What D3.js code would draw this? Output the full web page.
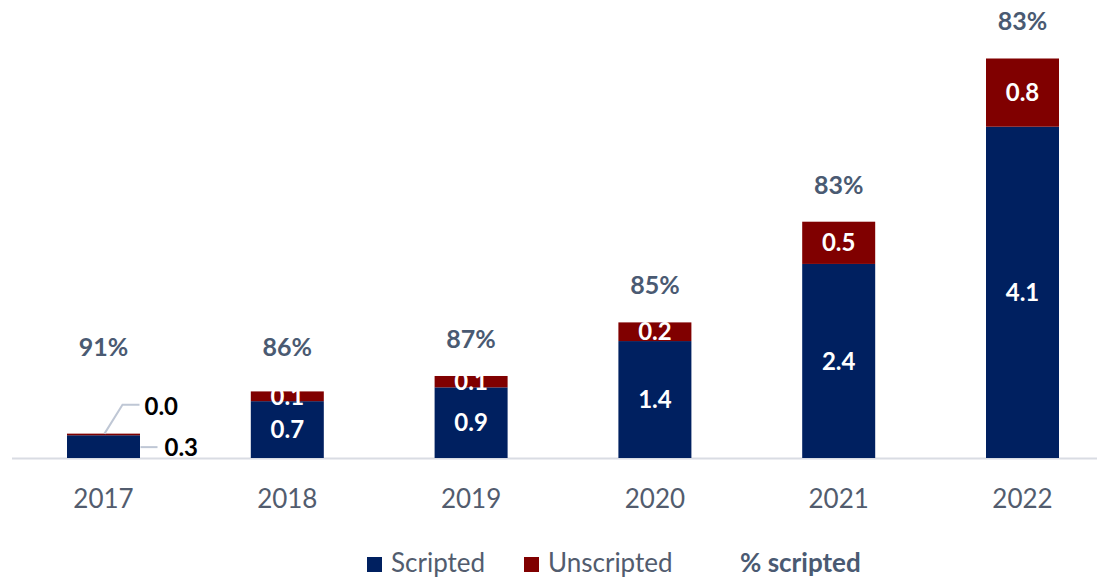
<!DOCTYPE html>
<html>
<head>
<meta charset="utf-8">
<script src="https://cdn.jsdelivr.net/npm/d3@7"></script>
<style>
  html, body { margin: 0; padding: 0; background: #fff; }
  svg { display: block; font-family: Lato, "Open Sans", sans-serif; }
</style>
</head>
<body>
<svg width="1097" height="580"></svg>
<script>
const years = ["2017", "2018", "2019", "2020", "2021", "2022"];
const scripted = [0.28, 0.70, 0.87, 1.44, 2.39, 4.08];
const unscripted = [0.02, 0.12, 0.14, 0.23, 0.52, 0.84];
const pctScripted = [91, 86, 87, 85, 83, 83];
const seriesNames = ["Scripted", "Unscripted", "% scripted"];

const NAVY = "#002060";
const RED = "#800000";
const TEXT = "#4A5A72";

function drawChart() {
  const svg = d3.select("svg");
  const width = +svg.attr("width");
  const baseY = 458;

  const x = d3.scalePoint()
    .domain(years)
    .range([103.5, 1022.5]);
  const barW = 73;

  const y = d3.scaleLinear()
    .domain([0, 5])
    .range([baseY, 52]);

  const rows = years.map((yr, i) => ({
    year: yr,
    s: scripted[i],
    u: unscripted[i],
    pct: pctScripted[i]
  }));

  // axis line
  svg.append("line")
    .attr("x1", 12).attr("x2", width)
    .attr("y1", baseY + 0.5).attr("y2", baseY + 0.5)
    .attr("stroke", "#D9DCE3").attr("stroke-width", 2);

  const g = svg.append("g");

  // scripted
  g.selectAll("rect.s")
    .data(rows)
    .join("rect")
    .attr("class", "s")
    .attr("x", d => x(d.year) - barW / 2)
    .attr("y", d => y(d.s))
    .attr("width", barW)
    .attr("height", d => baseY - y(d.s))
    .attr("fill", NAVY);

  // unscripted
  g.selectAll("rect.u")
    .data(rows)
    .join("rect")
    .attr("class", "u")
    .attr("x", d => x(d.year) - barW / 2)
    .attr("y", d => y(d.s + d.u))
    .attr("width", barW)
    .attr("height", d => y(d.s) - y(d.s + d.u))
    .attr("fill", RED);

  // value labels inside bars (2017 gets callouts)
  const inside = rows.filter(d => d.year !== "2017");
  g.selectAll("text.sv")
    .data(inside)
    .join("text")
    .attr("x", d => x(d.year))
    .attr("y", d => (y(d.s) + baseY) / 2)
    .attr("dy", "0.36em")
    .attr("text-anchor", "middle")
    .attr("fill", "#fff")
    .attr("font-size", 24)
    .attr("font-weight", 700)
    .text(d => d.s.toFixed(1));

  g.selectAll("text.uv")
    .data(inside)
    .join("text")
    .attr("x", d => x(d.year))
    .attr("y", d => (y(d.s) + y(d.s + d.u)) / 2)
    .attr("dy", "0.36em")
    .attr("text-anchor", "middle")
    .attr("fill", "#fff")
    .attr("font-size", 24)
    .attr("font-weight", 700)
    .text(d => d.u.toFixed(1));

  // 2017 callouts
  const first = rows[0];
  const cx = x(first.year);
  const topY = y(first.s + first.u);
  const midY = (y(first.s) + baseY) / 2;
  svg.append("polyline")
    .attr("points", `${cx + 1},${topY} ${cx + 19},${topY - 29} ${cx + 36},${topY - 29}`)
    .attr("fill", "none").attr("stroke", "#BFC7D5").attr("stroke-width", 2);
  svg.append("text")
    .attr("x", cx + 41).attr("y", topY - 27)
    .attr("dy", "0.36em")
    .attr("font-size", 24).attr("font-weight", 700).attr("fill", "#000")
    .text(first.u.toFixed(1));
  svg.append("line")
    .attr("x1", cx + 37).attr("x2", cx + 54)
    .attr("y1", midY + 0.5).attr("y2", midY + 0.5)
    .attr("stroke", "#BFC7D5").attr("stroke-width", 2);
  svg.append("text")
    .attr("x", cx + 61).attr("y", midY + 1)
    .attr("dy", "0.36em")
    .attr("font-size", 24).attr("font-weight", 700).attr("fill", "#000")
    .text(first.s.toFixed(1));

  // % scripted labels
  g.selectAll("text.pct")
    .data(rows)
    .join("text")
    .attr("x", d => x(d.year))
    .attr("y", d => Math.min(y(d.s + d.u) - 28, baseY - 102))
    .attr("text-anchor", "middle")
    .attr("fill", TEXT)
    .attr("font-size", 25)
    .attr("font-weight", 700)
    .text(d => `${d.pct}%`);

  // year labels
  g.selectAll("text.yr")
    .data(rows)
    .join("text")
    .attr("x", d => x(d.year))
    .attr("y", 508)
    .attr("text-anchor", "middle")
    .attr("fill", "#525C6E")
    .attr("font-size", 26)
    .text(d => d.year);

  // legend
  const legend = svg.append("g").attr("transform", "translate(0,563)");
  const items = [
    { name: seriesNames[0], color: NAVY, x: 367 },
    { name: seriesNames[1], color: RED, x: 524 },
    { name: seriesNames[2], color: null, x: 740 }
  ];
  items.forEach(it => {
    if (it.color) {
      legend.append("rect")
        .attr("x", it.x).attr("y", -6)
        .attr("width", 15).attr("height", 15)
        .attr("fill", it.color);
      legend.append("text")
        .attr("x", it.x + 24).attr("y", 0)
        .attr("dy", "0.36em")
        .attr("font-size", 26)
        .attr("fill", "#525C6E")
        .text(it.name);
    } else {
      legend.append("text")
        .attr("x", it.x).attr("y", 0)
        .attr("dy", "0.36em")
        .attr("font-size", 26)
        .attr("font-weight", 700)
        .attr("fill", TEXT)
        .text(it.name);
    }
  });
}

drawChart();
</script>
</body>
</html>
